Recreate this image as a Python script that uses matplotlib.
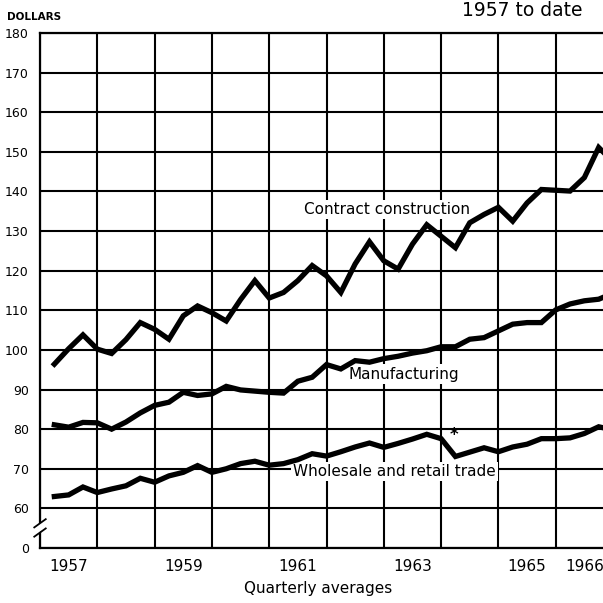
import numpy as np
import matplotlib
matplotlib.use("Agg")
import matplotlib.pyplot as plt

# Quarterly average weekly earnings, 1957 Q1 onward (dollars)
start_year = 1957
construction = [96.4, 100.3, 103.8, 100.2, 99.1, 102.6, 106.9, 105.2,
                102.7, 108.6, 111.1, 109.4, 107.3, 112.7, 117.5, 113.1,
                114.5, 117.5, 121.3, 118.7, 114.5, 121.7, 127.3, 122.5,
                120.4, 126.7, 131.6, 128.7, 125.8, 132.1, 134.2, 136.0,
                132.5, 137.1, 140.5, 140.3, 140.1, 143.5, 151.1, 147.5]
manufacturing = [81.1, 80.5, 81.7, 81.6, 80.0, 81.8, 84.1, 86.0,
                 86.8, 89.3, 88.5, 88.9, 90.8, 89.9, 89.6, 89.3,
                 89.1, 92.1, 93.1, 96.3, 95.2, 97.3, 96.9, 97.8,
                 98.4, 99.2, 99.8, 100.8, 100.8, 102.7, 103.1, 104.8,
                 106.5, 106.9, 106.9, 110.1, 111.6, 112.4, 112.8, 114.3]
wholesale = [63.0, 63.4, 65.4, 64.0, 64.9, 65.7, 67.6, 66.6,
             68.2, 69.1, 70.8, 69.1, 70.0, 71.3, 71.9, 70.9,
             71.3, 72.3, 73.8, 73.2, 74.3, 75.5, 76.5, 75.4,
             76.4, 77.5, 78.7, 77.6, 73.1, 74.2, 75.3, 74.3,
             75.5, 76.2, 77.6, 77.6, 77.8, 78.9, 80.6, 79.8]

year_labels = ["1957", "1959", "1961", "1963", "1965", "1966"]
year_label_pos = [1957.5, 1959.5, 1961.5, 1963.5, 1965.5, 1966.5]
ytick_vals = [50, 60, 70, 80, 90, 100, 110, 120, 130, 140, 150, 160, 170, 180]
ytick_labels = ["0", "60", "70", "80", "90", "100", "110", "120", "130",
                "140", "150", "160", "170", "180"]

n = len(construction)
t = start_year + 0.25 * (np.arange(n) + 1)

W = H = 603
fig = plt.figure(figsize=(6.03, 6.03), dpi=100)
left_px, right_px, top_px, bot_px = 40, 613, 33, 548
ax = fig.add_axes([left_px / W, 1 - bot_px / H, (right_px - left_px) / W,
                   (bot_px - top_px) / H])
ax.set_xlim(1957, 1967)
ax.set_ylim(50, 180)

# grid
ax.set_yticks(ytick_vals)
ax.set_yticklabels(ytick_labels)
ax.set_xticks(year_label_pos)
ax.set_xticklabels(year_labels)
ax.set_xticks(np.arange(1957, 1968), minor=True)
ax.tick_params(axis="both", which="both", length=0)
ax.tick_params(axis="y", labelsize=9, pad=8)
ax.tick_params(axis="x", labelsize=11, pad=8)
ax.grid(True, which="minor", axis="x", color="black", lw=1.5)
ax.grid(True, which="major", axis="y", color="black", lw=1.5)
ax.grid(False, which="major", axis="x")
for s in ax.spines.values():
    s.set_linewidth(1.6)
ax.set_axisbelow(True)

lw = 3.8
ax.plot(t, construction, color="black", lw=lw, solid_joinstyle="miter", zorder=3)
ax.plot(t, manufacturing, color="black", lw=lw, solid_joinstyle="miter", zorder=3)
ax.plot(t, wholesale, color="black", lw=lw, solid_joinstyle="miter", zorder=3)

box = dict(facecolor="white", edgecolor="none", pad=1.5)
ax.text(1961.61, 135.4, "Contract construction", fontsize=11, ha="left",
        va="center", bbox=box, zorder=2)
ax.text(1962.38, 93.9, "Manufacturing", fontsize=11, ha="left",
        va="center", bbox=box, zorder=2)
ax.text(1961.42, 69.3, "Wholesale and retail trade", fontsize=11, ha="left",
        va="center", bbox=box, zorder=2)
ax.text(1964.22, 78.4, "*", fontsize=12, ha="center", va="center",
        fontweight="bold", zorder=4)

ax.set_xlabel("Quarterly averages", fontsize=11, labelpad=8)
ax.xaxis.set_label_coords((318 - left_px) / (right_px - left_px), -0.065)

# axis break mark
ax.plot([-0.012, 0.012], [0.030, 0.050], transform=ax.transAxes, color="white",
        lw=5, clip_on=False, zorder=5)
ax.plot([-0.010, 0.010], [0.022, 0.038], transform=ax.transAxes, color="black",
        lw=1.3, clip_on=False, zorder=6)
ax.plot([-0.010, 0.010], [0.040, 0.056], transform=ax.transAxes, color="black",
        lw=1.3, clip_on=False, zorder=6)

fig.text(7 / W, 1 - 17 / H, "DOLLARS", fontsize=7.5, fontweight="bold",
         ha="left", va="center")
fig.text(583 / W, 1 - 16 / H, "1957 to date", fontsize=13.5, ha="right",
         va="baseline")

fig.savefig("out.png", dpi=100)
